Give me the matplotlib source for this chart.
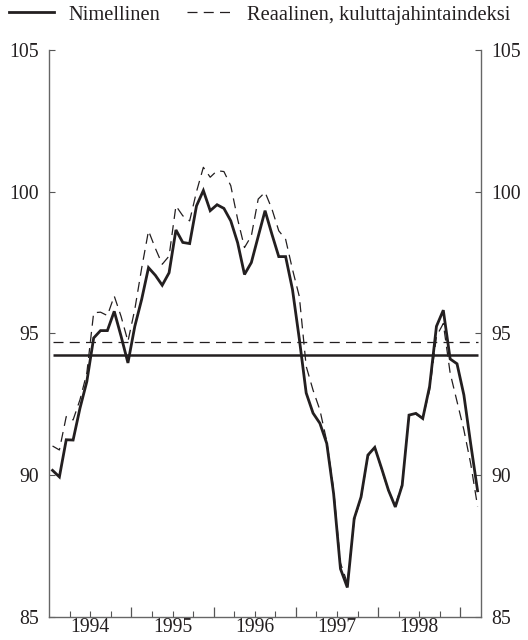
import numpy as np
import matplotlib
matplotlib.use("Agg")
import matplotlib.pyplot as plt
from matplotlib.ticker import FixedLocator, FixedFormatter

# DATA
# monthly index values, Jan 1994 - Mar 1999
nominal = [90.17, 89.94, 91.25, 91.24, 92.36, 93.30, 94.84, 95.10, 95.10, 95.78,
           94.90, 93.96, 95.25, 96.20, 97.32, 97.05, 96.70, 97.14, 98.65, 98.21,
           98.17, 99.50, 100.04, 99.33, 99.54, 99.41, 98.97, 98.20, 97.08, 97.50,
           98.42, 99.33, 98.50, 97.71, 97.71, 96.55, 94.80, 92.90, 92.19, 91.83,
           91.12, 89.35, 86.70, 86.04, 88.47, 89.23, 90.71, 90.98, 90.24, 89.47,
           88.88, 89.64, 92.12, 92.18, 92.00, 93.13, 95.25, 95.82, 94.10, 93.93,
           92.83, 91.10, 89.45]
real = [91.03, 90.89, 92.07, 91.95, 92.66, 93.60, 95.73, 95.75, 95.63, 96.32,
        95.60, 94.72, 95.85, 97.30, 98.62, 98.00, 97.44, 97.73, 99.50, 99.15,
        98.97, 100.00, 100.86, 100.51, 100.74, 100.71, 100.21, 99.03, 98.03, 98.44,
        99.74, 99.98, 99.39, 98.62, 98.32, 97.26, 96.30, 93.84, 93.00, 92.30,
        91.20, 89.50, 86.90, 86.20, 88.40, 89.20, 90.65, 91.00, 90.20, 89.45,
        88.95, 89.70, 92.10, 92.15, 92.00, 93.00, 94.90, 95.35, 93.60, 92.60,
        91.60, 90.40, 88.90]
nominal_mean = 94.23
real_mean = 94.70
years = ["1994", "1995", "1996", "1997", "1998"]
yticks = [85, 90, 95, 100, 105]

plt.rcParams['font.family'] = ['Liberation Serif', 'DejaVu Serif']
ink = '#231f20'

x = np.arange(len(nominal)) + 0.5

fig = plt.figure(figsize=(5.28, 6.4), dpi=100)
ax = fig.add_axes([0.093, 0.036, 0.818, 0.886])

ax.plot(x, nominal, color=ink, lw=2.0, label='Nimellinen', solid_joinstyle='miter')
ax.plot(x, real, color=ink, lw=0.9, ls=(0, (8, 5)), label='Reaalinen, kuluttajahintaindeksi')
ax.hlines(nominal_mean, x[0], x[-1], color=ink, lw=1.8)
ax.hlines(real_mean, x[0], x[-1], color=ink, lw=0.9, ls=(0, (8, 5)))

ax.set_xlim(0, 63)
ax.set_ylim(85, 105)

# year boundaries as major ticks, quarters as minor ticks, labels mid-year
ax.xaxis.set_major_locator(FixedLocator([12, 24, 36, 48, 60]))
ax.xaxis.set_major_formatter(FixedFormatter([''] * 5))
minor = [m for m in range(3, 63, 3) if m % 12 != 0]
ax.xaxis.set_minor_locator(FixedLocator(minor))
ax.xaxis.set_minor_formatter(FixedFormatter(
    [years[m // 12] if m % 12 == 6 else '' for m in minor]))

ax.set_yticks(yticks)
ax.tick_params(axis='x', which='major', direction='in', length=7, width=0.9, color='#555555')
ax.tick_params(axis='x', which='minor', direction='in', length=4, width=0.8, color='#555555',
               labelsize=14.2, pad=1, labelcolor=ink)
ax.tick_params(axis='y', direction='in', length=4, width=0.8, color='#555555',
               labelsize=14.2, labelcolor=ink, left=True, right=True,
               labelleft=True, labelright=True, pad=7.5)

for s in ['left', 'right', 'bottom']:
    ax.spines[s].set_color('#666666')
    ax.spines[s].set_linewidth(1.0)
ax.spines['top'].set_visible(False)

ax.legend(loc='lower left', bbox_to_anchor=(-0.112, 1.03), ncol=2, frameon=False,
          fontsize=14.8, handlelength=2.2, columnspacing=1.3, handletextpad=0.7,
          borderaxespad=0, labelcolor=ink)

fig.savefig('out.png', dpi=100)
